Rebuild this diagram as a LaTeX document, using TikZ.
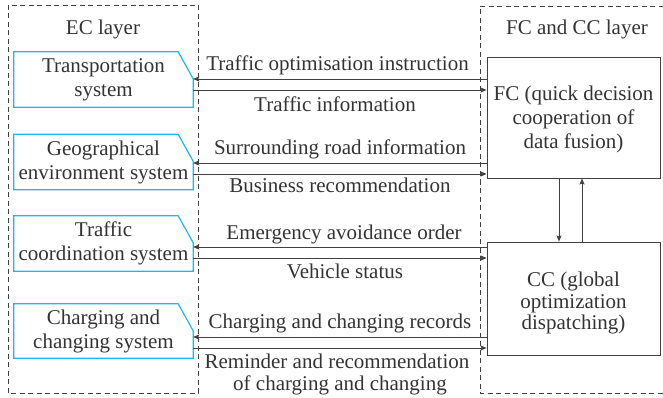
\documentclass[tikz,border=0pt]{standalone}
\usepackage{fontspec}
\setmainfont{Liberation Serif}
\usetikzlibrary{arrows.meta}
\definecolor{ink}{RGB}{51,51,51}
\definecolor{wire}{RGB}{64,64,64}
\definecolor{ecblue}{RGB}{38,180,232}
\tikzset{
  txt/.style={font=\fontsize{21}{24}\selectfont, text=ink, inner sep=0pt},
  layer/.style={draw=wire, line width=0.9pt, dash pattern=on 5pt off 3.5pt},
  ecbox/.style={txt, minimum width=179pt, minimum height=55pt, align=center},
  ecshape/.style={draw=ecblue, line width=1.2pt},
  unit/.style={draw=wire, line width=0.9pt, minimum width=173pt, inner sep=0pt},
  unittext/.style={txt, align=center},
  arr/.style={draw=wire, line width=0.9pt, -{Stealth[length=6pt,width=5pt,inset=1pt]}},
  lbl/.style={txt, anchor=base},
}
\newcommand{\cutbox}[1]{%
  \draw[ecshape] (#1.south west) -- (#1.north west) -- ([xshift=-15pt]#1.north east)
    -- ([yshift=-27pt]#1.north east) -- (#1.south east) -- cycle;}
\begin{document}
\begin{tikzpicture}[x=1pt, y=-1pt]
\useasboundingbox (0,0) rectangle (663,398);

% layer frames
\draw[layer] (8,5) rectangle (198,393);
\draw[layer] (672,6) -- (480,6) -- (480,393) -- (672,393);
\node[lbl] (eclabel) at (103,35) {EC layer};
\node[lbl] (fclabel) at (577,35) {FC and CC layer};

% EC layer systems
\node[ecbox] (ts) at (103.5,79.5) {Transportation\\system};
\node[ecbox] (ge) at (103.5,162) {Geographical\\environment system};
\node[ecbox] (tc) at (103.5,243.5) {Traffic\\coordination system};
\node[ecbox, minimum height=54pt] (cs) at (103.5,331) {Charging and\\changing system};
\cutbox{ts}\cutbox{ge}\cutbox{tc}\cutbox{cs}

% FC and CC layer units
\node[unit, minimum height=121pt] (fc) at (573.5,117.5) {};
\node[unittext] (fctext) at (573.5,119) {FC (quick decision\\cooperation of\\data fusion)};
\node[unit, minimum height=113pt] (cc) at (573.5,298.5) {};
\node[unittext, font=\fontsize{21}{21.5}\selectfont] (cctext) at (573.5,303) {CC (global\\optimization\\dispatching)};
\draw[arr] (fc.south -| 559,0) -- (cc.north -| 559,0);
\draw[arr] (cc.north -| 582,0) -- (fc.south -| 582,0);

% message flows
\draw[arr] (fc.west |- 0,79) -- (ts.east |- 0,79);
\draw[arr] (ts.east |- 0,90) -- (fc.west |- 0,90);
\draw[arr] (fc.west |- 0,163) -- (ge.east |- 0,163);
\draw[arr] (ge.east |- 0,174) -- (fc.west |- 0,174);
\draw[arr] (cc.west |- 0,247) -- (tc.east |- 0,247);
\draw[arr] (tc.east |- 0,258) -- (cc.west |- 0,258);
\draw[arr] (cc.west |- 0,337) -- (cs.east |- 0,337);
\draw[arr] (cs.east |- 0,348) -- (cc.west |- 0,348);

\node[lbl] (m1) at (337.5,70.5) {Traffic optimisation instruction};
\node[lbl] (m2) at (335,111.5) {Traffic information};
\node[lbl] (m3) at (340,155) {Surrounding road information};
\node[lbl] (m4) at (340,193) {Business recommendation};
\node[lbl] (m5) at (344,239) {Emergency avoidance order};
\node[lbl] (m6) at (345,278) {Vehicle status};
\node[lbl] (m7) at (340,328) {Charging and changing records};
\node[lbl] (m8) at (337,368) {Reminder and recommendation};
\node[lbl] (m9) at (340,390) {of charging and changing};
\end{tikzpicture}
\end{document}
